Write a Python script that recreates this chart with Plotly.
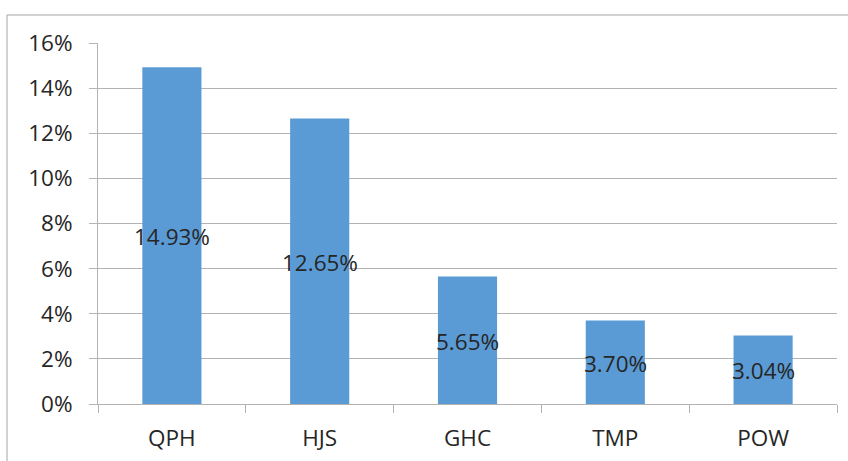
import plotly.graph_objects as go

# Share of each ticker (fractions)
tickers = ["QPH", "HJS", "GHC", "TMP", "POW"]
shares = [0.1493, 0.1265, 0.0565, 0.0370, 0.0304]

y_ticks = [0, 0.02, 0.04, 0.06, 0.08, 0.10, 0.12, 0.14, 0.16]

FONT = "Open Sans"
TEXT = "#262626"
GRID = "#B3B3B3"

fig = go.Figure()

fig.add_trace(go.Bar(
    x=tickers,
    y=shares,
    marker=dict(color="#5B9BD5", line=dict(width=0)),
    hoverinfo="skip",
))

# Data labels centred on each bar
for name, v in zip(tickers, shares):
    fig.add_annotation(
        x=name, y=v / 2, xref="x", yref="y",
        text=f"{v * 100:.2f}%",
        showarrow=False,
        yshift=-1,
        font=dict(family=FONT, size=22.5, color=TEXT),
    )

# Outer chart frame
fig.add_shape(
    type="rect", xref="paper", yref="paper",
    x0=-0.1231, x1=1.2, y0=-0.4, y1=1.0776,
    line=dict(color="#A6A6A6", width=1),
    fillcolor="rgba(0,0,0,0)",
    layer="below",
)

fig.update_layout(
    width=848,
    height=461,
    margin=dict(l=98, r=11, t=43, b=57),
    paper_bgcolor="white",
    plot_bgcolor="white",
    showlegend=False,
    bargap=0.6,
    font=dict(family=FONT, size=22, color=TEXT),
    xaxis=dict(
        type="category",
        range=[-0.5, 4.5],
        automargin=False,
        showgrid=False,
        showline=True,
        linecolor=GRID,
        linewidth=1,
        ticks="outside",
        tickson="boundaries",
        ticklen=8,
        tickcolor=GRID,
        tickfont=dict(family=FONT, size=22.5, color=TEXT),
        ticklabelstandoff=14,
        zeroline=False,
    ),
    yaxis=dict(
        range=[0, 0.16],
        automargin=False,
        tickvals=y_ticks,
        tickformat=".0%",
        showgrid=True,
        gridcolor=GRID,
        gridwidth=1,
        showline=True,
        linecolor=GRID,
        linewidth=1,
        ticks="outside",
        ticklen=8,
        tickcolor=GRID,
        tickfont=dict(family=FONT, size=22.5, color=TEXT),
        ticklabelstandoff=12,
        zeroline=False,
    ),
)

fig.write_html("out.html")
